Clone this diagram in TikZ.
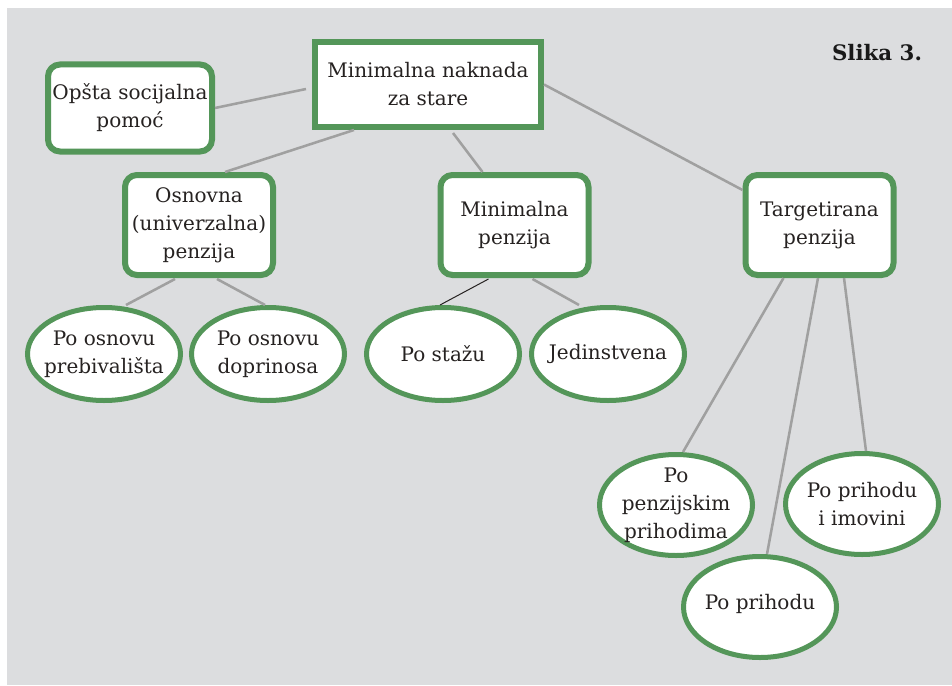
\documentclass[tikz,border=0pt]{standalone}
\usepackage{fontspec}
\setmainfont{DejaVu Serif}
\usetikzlibrary{shapes.geometric,calc}

\definecolor{boxgreen}{RGB}{84,150,89}
\definecolor{bggray}{RGB}{220,221,223}
\definecolor{linegray}{RGB}{160,160,160}
\definecolor{inkgray}{RGB}{38,34,33}

\tikzset{
  box/.style={draw=boxgreen, line width=4.5pt, fill=white, rounded corners=9pt,
    minimum width=111pt, minimum height=75pt, align=center, text=inkgray,
    font=\fontsize{15}{21}\selectfont},
  oval/.style={ellipse, draw=boxgreen, line width=3.75pt, fill=white,
    minimum width=114.75pt, minimum height=69.75pt, inner sep=0pt},
  txt/.style={align=center, text=inkgray, inner sep=0pt,
    font=\fontsize{15}{21}\selectfont},
  link/.style={draw=linegray, line width=1.9pt},
}

\begin{document}
\begin{tikzpicture}[x=0.75pt,y=0.75pt,yscale=-1,xscale=1]

            \useasboundingbox (0,0) rectangle (952,685);

            % Background
            \fill [bggray] (7,8) rectangle (952,685);

            % Boxes
            \node [box, sharp corners, minimum width=169.5pt, minimum height=63.75pt] (nak) at (428,84.5) {Minimalna naknada\\za stare};
            \node [box, minimum width=123pt, minimum height=65.25pt] (ops) at (130,108) {Opšta socijalna\\pomoć};
            \node [box] (osn) at (199,225) {Osnovna\\(univerzalna)\\penzija};
            \node [box] (min) at (514.5,225) {Minimalna\\penzija};
            \node [box] (tgt) at (819.5,225) {Targetirana\\penzija};

            % Ovals
            \node [oval] (pb) at (104,354) {};
            \node [oval] (dp) at (268,354) {};
            \node [oval] (st) at (443,354) {};
            \node [oval] (jd) at (608,354) {};
            \node [oval, minimum height=75.75pt] (pp) at (676,505) {};
            \node [oval, minimum height=75.75pt] (pi) at (862,504) {};
            \node [oval, minimum height=75.75pt] (ph) at (760,607) {};

            % Labels
            \node [txt] (pb-t) at (pb) {Po osnovu\\prebivališta};
            \node [txt] (dp-t) at (dp) {Po osnovu\\doprinosa};
            \node [txt] (st-t) at (st) {Po stažu};
            \node [txt] (jd-t) at (jd) {Jedinstvena};
            \node [txt] (pp-t) at (pp) {Po\\penzijskim\\prihodima};
            \node [txt] (pi-t) at (pi) {Po prihodu\\i imovini};
            \node [txt] (ph-t) at ($(ph)+(0,-3)$) {Po prihodu};
            \node [text=black!90, font=\bfseries\fontsize{16}{20}\selectfont] (title) at (877,53) {Slika 3.};

            % Links
            \draw [link] (ops.east) -- ($(nak.west)+(-6,4.5)$);
            \draw [link] ($(nak.south)+(-74,0)$) -- ($(osn.north)+(26,0)$);
            \draw [link] ($(nak.south)+(25,3)$) -- ($(min.north)+(-32,0)$);
            \draw [link] (nak.east) -- ($(tgt.west)+(0,-35)$);
            \draw [link] ($(osn.south)+(-24,1)$) -- ($(pb.north)+(22,0)$);
            \draw [link] ($(osn.south)+(18,1)$) -- ($(dp.north)+(-3,0)$);
            \draw [inkgray, line width=0.75pt] ($(min.south)+(-26,1)$) -- ($(st.north)+(-3,0)$);
            \draw [link] ($(min.south)+(18,1)$) -- ($(jd.north)+(-29,0)$);
            \draw [link] ($(tgt.south)+(-36,0)$) -- ($(pp.north)+(7,0)$);
            \draw [link] ($(tgt.south)+(-1.5,0)$) -- ($(ph.north)+(7,0)$);
            \draw [link] ($(tgt.south)+(24.5,0)$) -- ($(pi.north)+(4,0)$);

\end{tikzpicture}
\end{document}
